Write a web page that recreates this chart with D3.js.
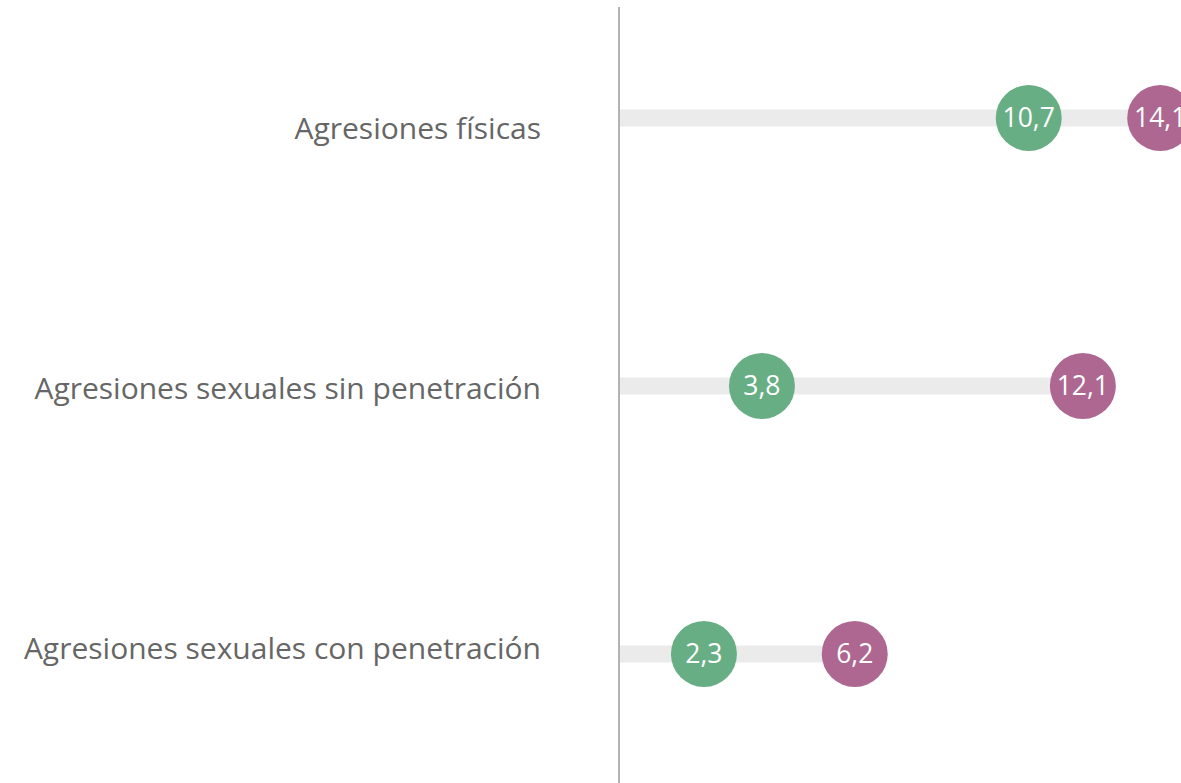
<!DOCTYPE html>
<html>
<head>
<meta charset="utf-8">
<script src="https://cdn.jsdelivr.net/npm/d3@7"></script>
<style>
  html, body { margin: 0; padding: 0; background: #fff; }
  svg { display: block; }
</style>
</head>
<body>
<div id="chart"></div>
<script>
const categories = [
  "Agresiones físicas",
  "Agresiones sexuales sin penetración",
  "Agresiones sexuales con penetración"
];
const seriesA = [10.7, 3.8, 2.3];   // green
const seriesB = [14.1, 12.1, 6.2];  // purple

const width = 1181, height = 783;
const fmt = v => d3.format(".1f")(v).replace(".", ",");

const svg = d3.select("#chart").append("svg")
  .attr("width", width)
  .attr("height", height);

const x = d3.scaleLinear().domain([0, 15]).range([615, 1195]);
const y = d3.scalePoint().domain(categories).range([118, 654]);
const yLabel = d3.scalePoint().domain(categories).range([128, 648]);

const axisX = 619;

const rows = categories.map((c, i) => ({ c, a: seriesA[i], b: seriesB[i] }));

// track bars
svg.append("g").selectAll("rect")
  .data(rows)
  .join("rect")
  .attr("x", axisX)
  .attr("y", d => y(d.c) - 8.5)
  .attr("width", d => x(Math.max(d.a, d.b)) - axisX)
  .attr("height", 17)
  .attr("fill", "#ebebeb");

// vertical axis line
svg.append("line")
  .attr("x1", axisX).attr("x2", axisX)
  .attr("y1", 7).attr("y2", height)
  .attr("stroke", "#b3b3b3")
  .attr("stroke-width", 2);

// category labels
svg.append("g").selectAll("text")
  .data(categories)
  .join("text")
  .attr("x", 541)
  .attr("y", d => yLabel(d))
  .attr("dy", "0.35em")
  .attr("text-anchor", "end")
  .attr("fill", "#666")
  .style("font-family", "'Open Sans', sans-serif")
  .style("font-size", "30px")
  .text(d => d);

function dots(values, color) {
  const g = svg.append("g");
  const pts = categories.map((c, i) => ({ c, v: values[i] }));
  g.selectAll("circle")
    .data(pts)
    .join("circle")
    .attr("cx", d => x(d.v))
    .attr("cy", d => y(d.c))
    .attr("r", 33)
    .attr("fill", color);
  g.selectAll("text")
    .data(pts)
    .join("text")
    .attr("x", d => x(d.v))
    .attr("y", d => y(d.c))
    .attr("dy", "0.35em")
    .attr("text-anchor", "middle")
    .attr("fill", "#fff")
    .style("font-family", "'Open Sans', sans-serif")
    .style("font-size", "26.5px")
    .text(d => fmt(d.v));
}

dots(seriesA, "#68ae84");
dots(seriesB, "#ad6790");
</script>
</body>
</html>
